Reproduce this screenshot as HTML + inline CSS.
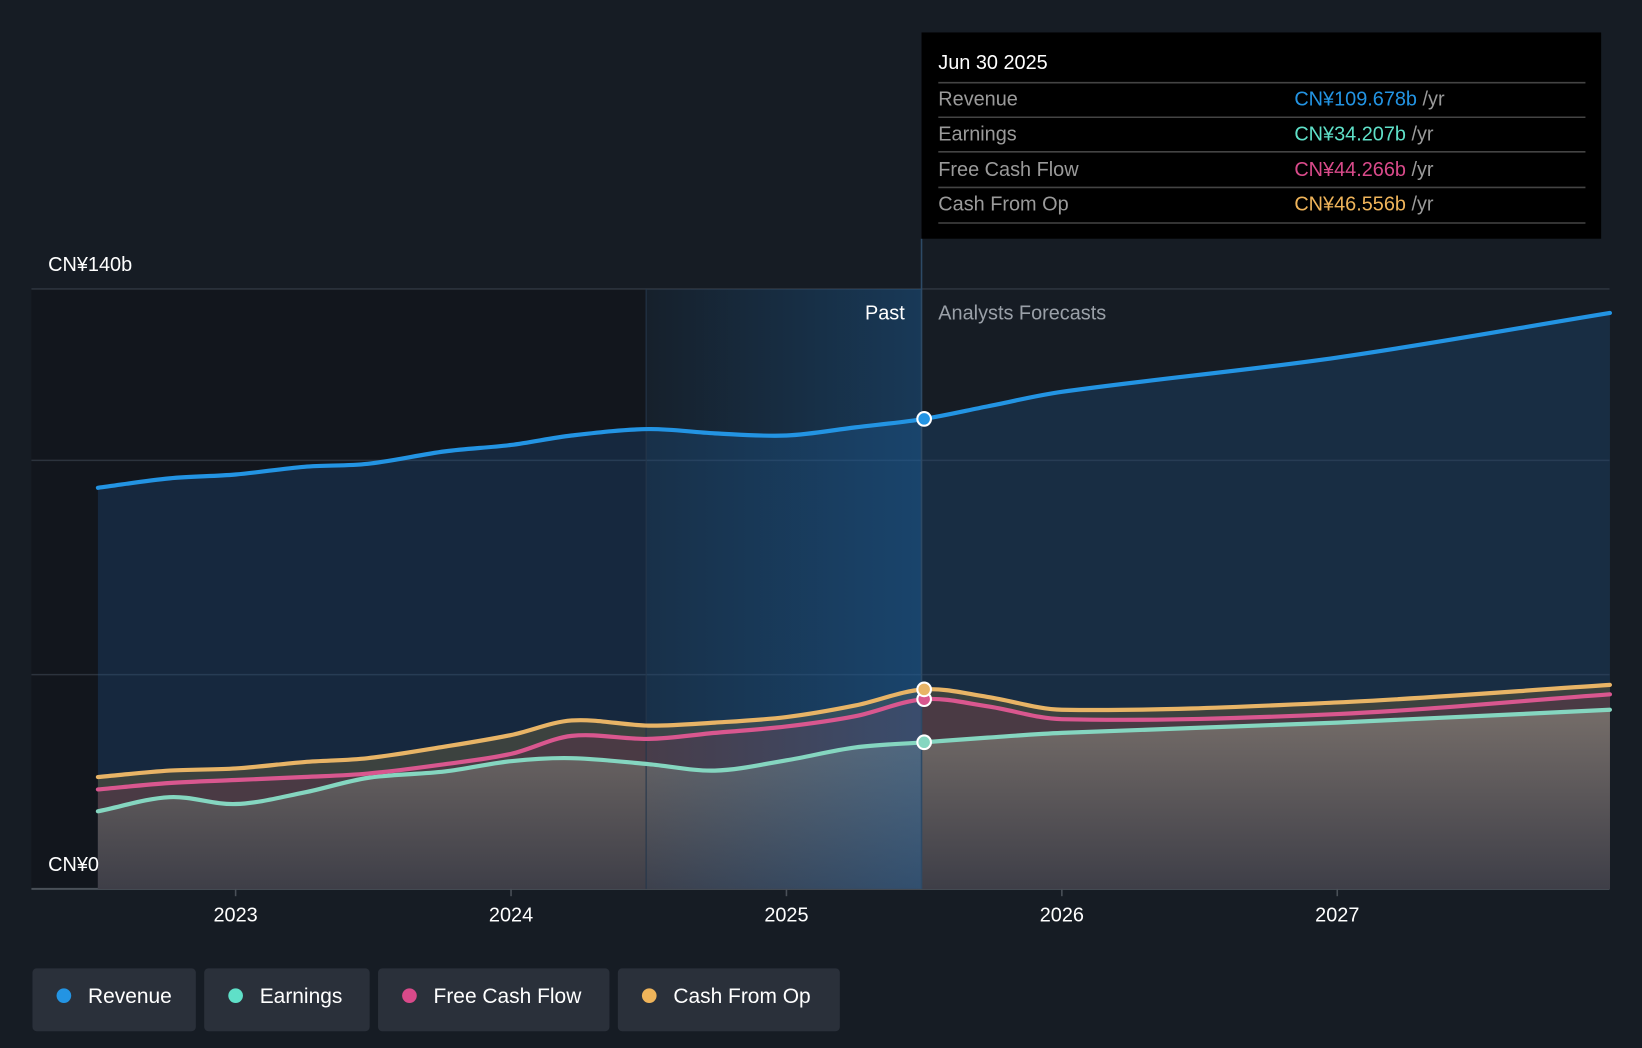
<!DOCTYPE html>
<html><head><meta charset="utf-8">
<style>
html,body{margin:0;padding:0;background:#161c24;width:1642px;height:1048px;overflow:hidden}
svg{display:block;font-family:"Liberation Sans","Noto Sans CJK SC",sans-serif}
</style></head>
<body>
<svg id="chart" width="1642" height="1048" viewBox="0 0 1568 1001" preserveAspectRatio="none" xmlns="http://www.w3.org/2000/svg">
<defs>
<linearGradient id="pastGrad" x1="0" x2="1" y1="0" y2="0">
<stop offset="0" stop-color="#1b6fb8" stop-opacity="0.05"/><stop offset="1" stop-color="#1b6fb8" stop-opacity="0.35"/>
</linearGradient>
<linearGradient id="earnGrad" x1="0" x2="0" y1="0" y2="1" gradientUnits="userSpaceOnUse" gradientTransform="" >
<stop offset="0" stop-color="#7a746e" stop-opacity="0.85"/><stop offset="1" stop-color="#3c3f48" stop-opacity="0.85"/>
</linearGradient>
</defs>
<rect x="0" y="0" width="1568" height="1001" fill="#161c24"/>
<rect x="30" y="276" width="587" height="573" fill="#12161d"/>
<g id="grid"></g>
<g id="areas"></g>
<rect x="617" y="276" width="263" height="573" fill="url(#pastGrad)"/>
<line x1="880" y1="228" x2="880" y2="849" stroke="#2d4a66" stroke-width="1.5"/>
<line x1="617" y1="276" x2="617" y2="849" stroke="#24364a" stroke-width="1"/>
<g id="lines"></g>
<g id="xaxis"></g>
<text x="46" y="259" fill="#fff" font-size="19">CN¥140b</text>
<text x="46" y="832" fill="#fff" font-size="19">CN¥0</text>
<text x="864" y="305" fill="#fff" font-size="19" text-anchor="end">Past</text>
<text x="896" y="305" fill="#9aa0a8" font-size="19">Analysts Forecasts</text>
<g>
<rect x="880" y="31" width="649" height="197" fill="#000"/>
<text x="896" y="66" fill="#fff" font-size="19">Jun 30 2025</text>
<line x1="896" y1="79" x2="1514" y2="79" stroke="#444" stroke-width="1.5"/>
<text x="896" y="101" fill="#9a9a9a" font-size="19">Revenue</text>
<text x="1236" y="101" font-size="19"><tspan fill="#2394e3">CN¥109.678b</tspan><tspan fill="#9a9a9a"> /yr</tspan></text>
<line x1="896" y1="112" x2="1514" y2="112" stroke="#444" stroke-width="1.5"/>
<text x="896" y="134" fill="#9a9a9a" font-size="19">Earnings</text>
<text x="1236" y="134" font-size="19"><tspan fill="#5fe0c8">CN¥34.207b</tspan><tspan fill="#9a9a9a"> /yr</tspan></text>
<line x1="896" y1="145" x2="1514" y2="145" stroke="#444" stroke-width="1.5"/>
<text x="896" y="168" fill="#9a9a9a" font-size="19">Free Cash Flow</text>
<text x="1236" y="168" font-size="19"><tspan fill="#d94a8a">CN¥44.266b</tspan><tspan fill="#9a9a9a"> /yr</tspan></text>
<line x1="896" y1="179" x2="1514" y2="179" stroke="#444" stroke-width="1.5"/>
<text x="896" y="201" fill="#9a9a9a" font-size="19">Cash From Op</text>
<text x="1236" y="201" font-size="19"><tspan fill="#efb45a">CN¥46.556b</tspan><tspan fill="#9a9a9a"> /yr</tspan></text>
<line x1="896" y1="213" x2="1514" y2="213" stroke="#444" stroke-width="1.5"/>
</g>
<g>
<g><rect x="31" y="925" width="156" height="60" rx="4" fill="#2a303a"/><circle cx="61" cy="951" r="7" fill="#2394e3"/><text x="84" y="958" fill="#fff" font-size="20">Revenue</text></g>
<g><rect x="195" y="925" width="158" height="60" rx="4" fill="#2a303a"/><circle cx="225" cy="951" r="7" fill="#5fe0c8"/><text x="248" y="958" fill="#fff" font-size="20">Earnings</text></g>
<g><rect x="361" y="925" width="221" height="60" rx="4" fill="#2a303a"/><circle cx="391" cy="951" r="7" fill="#d94a8a"/><text x="414" y="958" fill="#fff" font-size="20">Free Cash Flow</text></g>
<g><rect x="590" y="925" width="212" height="60" rx="4" fill="#2a303a"/><circle cx="620" cy="951" r="7" fill="#efb45a"/><text x="643" y="958" fill="#fff" font-size="20">Cash From Op</text></g>
</g>
</svg>
<script>
const dates = [2022.5,2022.76,2023.0,2023.25,2023.48,2023.76,2024.0,2024.22,2024.5,2024.74,2025.0,2025.25,2025.5,2025.73,2026.0,2027.0,2027.99];
const revenue = [93.6,95.8,96.7,98.5,99.2,102.1,103.6,105.8,107.3,106.3,105.8,107.7,109.678,112.6,116,124,134.4];
const earnings = [18.1,21.4,19.8,22.5,25.9,27.4,29.8,30.5,29.1,27.6,30,33,34.207,35.3,36.4,38.8,41.8];
const fcf = [23.2,24.7,25.4,26.1,26.9,29.1,31.5,35.7,35,36.4,37.9,40.3,44.266,42.6,39.6,40.8,45.4];
const cfo = [26.1,27.6,28.1,29.6,30.5,33.2,35.9,39.3,38.1,38.8,40.1,42.8,46.556,44.8,41.8,43.5,47.6];
const yTicks = [0,50,100,140];
const xTicks = [2023,2024,2025,2026,2027];
const pastIndex = 12;

const NS="http://www.w3.org/2000/svg";
const X = d => 225 + (d-2023)*263;
const Y = v => 849 - v*573/140;
function mk(tag, attrs, parent){const e=document.createElementNS(NS,tag);for(const k in attrs)e.setAttribute(k,attrs[k]);parent.appendChild(e);return e;}
function curve(vals){
  const p = dates.map((d,i)=>[X(d),Y(vals[i])]);
  const n=p.length, m=[];
  for(let i=0;i<n;i++){
    const a=p[Math.max(0,i-1)], b=p[Math.min(n-1,i+1)];
    m.push((b[1]-a[1])/(b[0]-a[0]));
  }
  let s = `M${p[0][0]},${p[0][1]}`;
  for(let i=0;i<n-1;i++){
    const dx=(p[i+1][0]-p[i][0])/3;
    s+=` C${p[i][0]+dx},${p[i][1]+m[i]*dx} ${p[i+1][0]-dx},${p[i+1][1]-m[i+1]*dx} ${p[i+1][0]},${p[i+1][1]}`;
  }
  return s;
}
const grid=document.getElementById('grid');
yTicks.forEach(v=>{
  const l=mk('line',{x1:30,x2:1537,y1:Y(v),y2:Y(v),stroke:v===0?'#4a5058':'#2c333d','stroke-width':v===0?2:1.5},grid);
  
  
});
const xa=document.getElementById('xaxis');
xTicks.forEach(t=>{
  const l=mk('line',{x1:X(t),x2:X(t),y1:849,y2:856,stroke:'#4a5058','stroke-width':1.5},xa);
  
  
  const tx=mk('text',{x:X(t),y:880,fill:'#fff','font-size':19,'text-anchor':'middle'},xa);
  tx.textContent=t;
  
  
});
const eg=document.getElementById('earnGrad');
eg.setAttribute('y1',Y(40));eg.setAttribute('y2',Y(0));
const x0=X(dates[0]), x1=X(dates[dates.length-1]), yb=Y(0);
const areas=document.getElementById('areas');
const fills=[[revenue,'rgba(30,80,135,0.32)'],[cfo,'#3c423f'],[fcf,'#4a3a44'],[earnings,'url(#earnGrad)']];
fills.forEach(([v,c],i)=>{
  const a=mk('path',{d:curve(v)+` L${x1},${yb} L${x0},${yb} Z`,fill:c},areas);
  
  
});
const lines=document.getElementById('lines');
const series=[['revenue',revenue,'#2394e3'],['earnings',earnings,'#85d6c0'],['free-cash-flow',fcf,'#d9578f'],['cash-from-op',cfo,'#e8b466']];
series.forEach(([n,v,c])=>{
  const l=mk('path',{d:curve(v),fill:'none',stroke:c,'stroke-width':4,'stroke-linecap':'round'},lines);
  
  
});
series.forEach(([n,v,c])=>{
  const m=mk('circle',{cx:X(dates[pastIndex]),cy:Y(v[pastIndex]),r:6.5,fill:c,stroke:'#fff','stroke-width':2},lines);
  
  
});
</script>
</body></html>
